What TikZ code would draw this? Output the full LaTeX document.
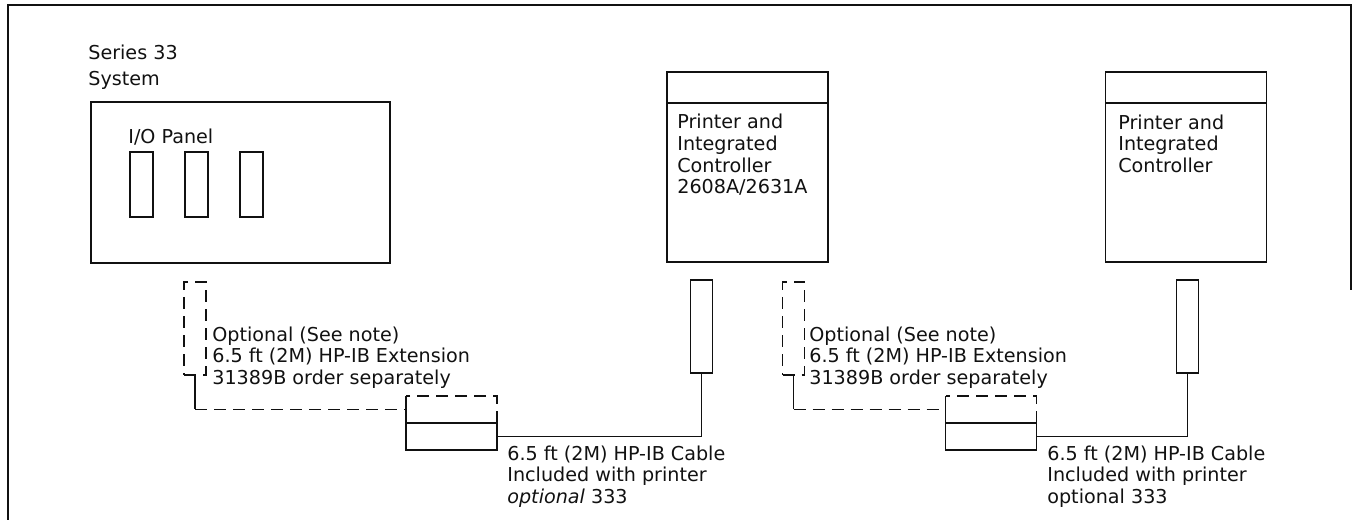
\documentclass[tikz,border=0pt]{standalone}
\usepackage{fontspec}
\setmainfont{DejaVu Sans}
\usepackage{tikz}
\usetikzlibrary{
  positioning,
  calc
}
\definecolor{inkStroke}{HTML}{111111}
\definecolor{inkTxt}{HTML}{111111}
\tikzset{
  base/.style={
    rectangle, draw=inkStroke, line width=0.9pt,
    inner sep=0pt, outer sep=0pt
  },
  panel node/.style={base,
    minimum width=5.98cm, minimum height=3.22cm},
  slot node/.style={base,
    minimum width=0.46cm, minimum height=1.30cm},
  printer node/.style={base,
    minimum width=3.22cm, minimum height=3.80cm},
  plug node/.style={base,
    minimum width=0.44cm, minimum height=1.86cm},
  socket node/.style={base,
    minimum width=1.82cm, minimum height=0.54cm},
  cable/.style={draw=inkStroke, line width=0.9pt},
  dash line/.style={cable, dash pattern=on 0.24cm off 0.14cm},
  txt/.style={
    inner sep=0pt, anchor=base west, align=left,
    text=inkTxt, font=\fontsize{10.9}{12.35}\selectfont
  },
}

\begin{document}
\begin{tikzpicture}
    \useasboundingbox (0,0) rectangle (27.04,-10.40);
    % Frame
    \draw[cable] (0.16,-10.40) -- (0.16,-0.10) -- (27.02,-0.10) -- (27.02,-5.80);

    % System with I/O panel (text nodes sit on their last baseline)
    \node[txt, font=\fontsize{10.9}{14.8}\selectfont] (systxt) at (1.76,-1.72) {Series 33\\System};
    \node[panel node] (sys) at (4.81,-3.65) {};
    \node[txt] (iotxt) at (2.56,-2.88) {I/O Panel};
    \foreach \i/\x in {1/2.83, 2/3.93, 3/5.03}
      \node[slot node] (slot\i) at (\x,-3.69) {};

    % Printers
    \node[printer node] (prn1) at (14.95,-3.34) {};
    \draw[cable] ([yshift=-0.62cm]prn1.north west) -- ([yshift=-0.62cm]prn1.north east);
    \node[txt] (prn1txt) at (13.54,-3.88) {Printer and\\Integrated\\Controller\\2608A/2631A};
    \node[printer node] (prn2) at (23.72,-3.34) {};
    \draw[cable] ([yshift=-0.62cm]prn2.north west) -- ([yshift=-0.62cm]prn2.north east);
    \node[txt] (prn2txt) at (22.36,-3.45) {Printer and\\Integrated\\Controller};

    % Connectors
    \node[plug node] (conn1) at (14.03,-6.53) {};
    \node[plug node] (conn2) at (23.75,-6.53) {};
    \node[plug node, dash line] (ext1) at (3.90,-6.57) {};
    \node[plug node, dash line] (ext2) at (15.87,-6.57) {};

    % Sockets
    \node[socket node, draw=none] (xsock1) at (9.03,-8.19) {};
    \node[socket node] (sock1) at (9.03,-8.73) {};
    \draw[dash line] (xsock1.south east) -- (xsock1.north east) -- (xsock1.north west);
    \draw[cable] (xsock1.north west) -- (xsock1.south west);
    \node[socket node, draw=none] (xsock2) at (19.82,-8.19) {};
    \node[socket node] (sock2) at (19.82,-8.73) {};
    \draw[dash line] (xsock2.south east) -- (xsock2.north east) -- (xsock2.north west);
    \draw[cable] (xsock2.north west) -- (xsock2.south west);

    % Cables
    \draw[cable] (sock1.east) -| (conn1.south);
    \draw[cable] (sock2.east) -| (conn2.south);
    \draw[cable] (ext1.south) -- (ext1.south |- xsock1.west);
    \draw[dash line] (ext1.south |- xsock1.west) -- (xsock1.west);
    \draw[cable] (ext2.south) -- (ext2.south |- xsock2.west);
    \draw[dash line] (ext2.south |- xsock2.west) -- (xsock2.west);

    % Labels
    \node[txt] (ext1txt) at (4.24,-7.69)
      {Optional (See note)\\6.5 ft (2M) HP-IB Extension\\31389B order separately};
    \node[txt] (ext2txt) at (16.18,-7.69)
      {Optional (See note)\\6.5 ft (2M) HP-IB Extension\\31389B order separately};
    \node[txt] (cab1txt) at (10.14,-10.07)
      {6.5 ft (2M) HP-IB Cable\\Included with printer\\\textit{optional} 333};
    \node[txt] (cab2txt) at (20.94,-10.07)
      {6.5 ft (2M) HP-IB Cable\\Included with printer\\optional 333};
\end{tikzpicture}
\end{document}
